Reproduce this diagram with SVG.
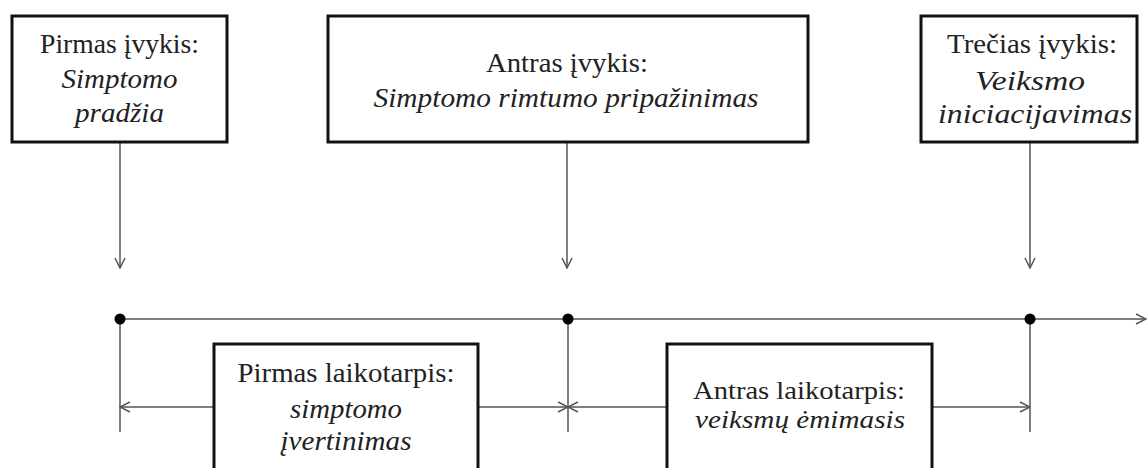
<svg xmlns="http://www.w3.org/2000/svg" width="1148" height="468" viewBox="0 0 1148 468">
<style>
.box{fill:#fff;stroke:#111;stroke-width:3}
.t{font-family:'Liberation Serif','Times New Roman',Tinos,'DejaVu Serif',serif;font-size:27px;fill:#222;text-anchor:middle}
.i{font-style:italic}
.s{font-size:25px}
.ln{stroke:#555;stroke-width:1.5;fill:none}
</style>
<defs>
<marker id="ah" viewBox="0 0 12 12" refX="11" refY="6" markerWidth="12" markerHeight="12" markerUnits="userSpaceOnUse" orient="auto-start-reverse">
<path d="M1,1 L11,6 L1,11" fill="none" stroke="#555" stroke-width="1.5"/>
</marker>
</defs>
<g id="connectors">
<line class="ln" x1="120" y1="142" x2="120" y2="268" marker-end="url(#ah)"/>
<line class="ln" x1="567" y1="142" x2="567" y2="268" marker-end="url(#ah)"/>
<line class="ln" x1="1030" y1="142" x2="1030" y2="268" marker-end="url(#ah)"/>
<line class="ln" x1="120" y1="319" x2="1146" y2="319" marker-end="url(#ah)"/>
<line class="ln" x1="120" y1="319" x2="120" y2="432"/>
<line class="ln" x1="568" y1="319" x2="568" y2="432"/>
<line class="ln" x1="1030" y1="319" x2="1030" y2="432"/>
<line class="ln" x1="120" y1="407" x2="214" y2="407" marker-start="url(#ah)"/>
<line class="ln" x1="478" y1="407" x2="568" y2="407" marker-end="url(#ah)"/>
<line class="ln" x1="568" y1="407" x2="667" y2="407" marker-start="url(#ah)"/>
<line class="ln" x1="932" y1="407" x2="1030" y2="407" marker-end="url(#ah)"/>
<circle cx="120" cy="319" r="5.5" fill="#000"/>
<circle cx="568" cy="319" r="5.5" fill="#000"/>
<circle cx="1030" cy="319" r="5.5" fill="#000"/>
</g>
<g id="event1">
<rect class="box" x="12" y="16" width="215" height="126"/>
<text class="t" font-family="Liberation Serif, serif" x="119.5" y="53" textLength="159" lengthAdjust="spacingAndGlyphs">Pirmas įvykis:</text>
<text class="t i" font-family="Liberation Serif, serif" x="119.5" y="88" textLength="116" lengthAdjust="spacingAndGlyphs">Simptomo</text>
<text class="t i" font-family="Liberation Serif, serif" x="119.5" y="122" textLength="89" lengthAdjust="spacingAndGlyphs">pradžia</text>
</g>
<g id="event2">
<rect class="box" x="328" y="16" width="480" height="126"/>
<text class="t" font-family="Liberation Serif, serif" x="567" y="72" textLength="162" lengthAdjust="spacingAndGlyphs">Antras įvykis:</text>
<text class="t i" font-family="Liberation Serif, serif" x="566" y="107" textLength="385" lengthAdjust="spacingAndGlyphs">Simptomo rimtumo pripažinimas</text>
</g>
<g id="event3">
<rect class="box" x="921" y="16" width="216" height="126"/>
<text class="t" font-family="Liberation Serif, serif" x="1032" y="53" textLength="170" lengthAdjust="spacingAndGlyphs">Trečias įvykis:</text>
<text class="t i" font-family="Liberation Serif, serif" x="1030" y="90" textLength="110" lengthAdjust="spacingAndGlyphs">Veiksmo</text>
<text class="t i" font-family="Liberation Serif, serif" x="1035" y="123" textLength="194" lengthAdjust="spacingAndGlyphs">iniciacijavimas</text>
</g>
<g id="period1">
<rect class="box" x="214" y="344" width="264" height="140"/>
<text class="t" font-family="Liberation Serif, serif" x="346" y="382" textLength="217" lengthAdjust="spacingAndGlyphs">Pirmas laikotarpis:</text>
<text class="t i" font-family="Liberation Serif, serif" x="346" y="418" textLength="112" lengthAdjust="spacingAndGlyphs">simptomo</text>
<text class="t i" font-family="Liberation Serif, serif" x="346" y="450" textLength="131" lengthAdjust="spacingAndGlyphs">įvertinimas</text>
</g>
<g id="period2">
<rect class="box" x="667" y="344" width="265" height="140"/>
<text class="t s" font-family="Liberation Serif, serif" x="799" y="399" textLength="212" lengthAdjust="spacingAndGlyphs">Antras laikotarpis:</text>
<text class="t i s" font-family="Liberation Serif, serif" x="800" y="428" textLength="210" lengthAdjust="spacingAndGlyphs">veiksmų ėmimasis</text>
</g>
</svg>
